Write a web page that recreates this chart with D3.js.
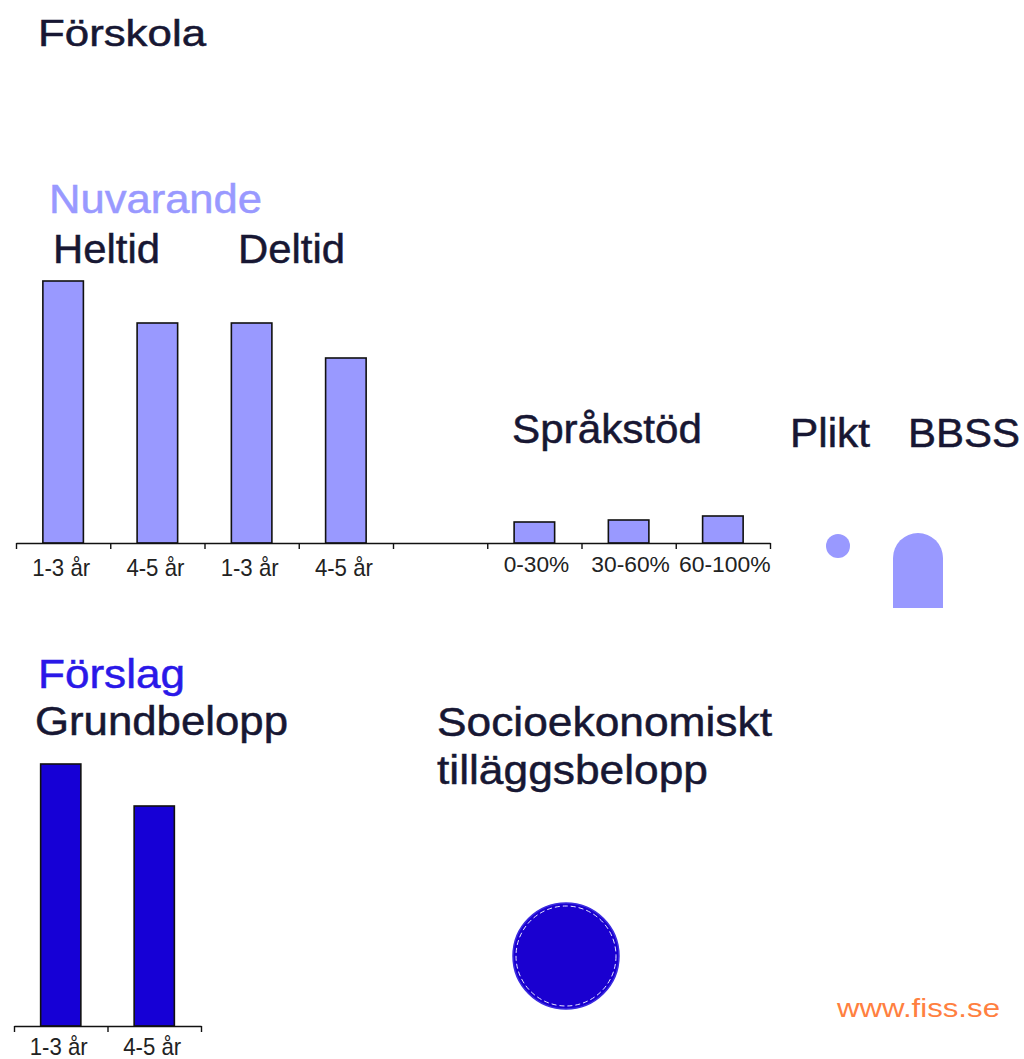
<!DOCTYPE html>
<html><head><meta charset="utf-8">
<script src="https://cdn.jsdelivr.net/npm/d3@7"></script>
<style>
html,body{margin:0;padding:0;background:#fff;}
svg{display:block;}
text{font-family:"Liberation Sans",Arial,sans-serif;}
</style></head>
<body>
<script>
// ---- data ----
const nuvCategories = ["Heltid 1-3","Heltid 4-5","Deltid 1-3","Deltid 4-5","gap","Språkstöd 0-30","Språkstöd 30-60","Språkstöd 60-100"];
const nuvTickLabels = ["1-3 år","4-5 år","1-3 år","4-5 år","","0-30%","30-60%","60-100%"];
const nuvValues = [262, 220, 220, 185, null, 21, 23, 27];

const forCategories = ["Grund 1-3","Grund 4-5"];
const forTickLabels = ["1-3 år","4-5 år"];
const forValues = [262, 220];

const pliktValue = 144;      // area-like value (circle)
const socioValue = 2809;     // area-like value (circle)
const bbssValue = 75;        // height of BBSS shape

// ---- drawing ----
const W = 1024, H = 1059;
const svg = d3.select("body").append("svg").attr("width", W).attr("height", H);

const dark = "#171733";
const light = "#9999ff";
const deep = "#1600d6";

function txt(s, x, y, size, len, color) {
  return svg.append("text").attr("x", x).attr("y", y)
    .attr("font-size", size).attr("fill", color || dark)
    .attr("stroke", color || dark).attr("stroke-width", 0.5)
    .attr("textLength", len).attr("lengthAdjust", "spacingAndGlyphs")
    .text(s);
}

txt("Förskola", 38, 46, 36, 168);
txt("Nuvarande", 49, 213, 40, 213, light);
txt("Heltid", 53, 263, 40, 107);
txt("Deltid", 238, 263, 40, 107);
txt("Språkstöd", 512, 443, 40, 190);
txt("Plikt", 790, 447, 40, 80);
txt("BBSS", 908, 447, 40, 112);
txt("Förslag", 38, 688, 40, 147, "#2a18e8");
txt("Grundbelopp", 35, 735, 40, 253);
txt("Socioekonomiskt", 437, 736, 40, 335);
txt("tilläggsbelopp", 437, 784, 40, 271);
txt("www.fiss.se", 837, 1017, 26, 163, "#ff8040").attr("stroke-width", 0);

// y scale shared (pixels per unit)
const yTop = d3.scaleLinear().domain([0, 300]).range([543, 243]);
const yBot = d3.scaleLinear().domain([0, 300]).range([1026, 726]);

function barChart(cats, labels, vals, x0, x1, y, fill, labelDy) {
  const xb = d3.scaleBand().domain(cats).range([x0, x1]).padding(0);
  const xl = d3.scaleLinear().domain([0, cats.length]).range([x0, x1]);
  const bw = xb.bandwidth() * 0.43;
  const base = y(0);
  svg.append("g").selectAll("rect").data(cats.map((c, i) => ({c, v: vals[i]})).filter(d => d.v != null))
    .join("rect")
    .attr("x", d => xb(d.c) + xb.bandwidth() / 2 - bw / 2)
    .attr("y", d => y(d.v))
    .attr("width", bw)
    .attr("height", d => base - y(d.v))
    .attr("fill", fill).attr("stroke", "#111").attr("stroke-width", 1.6);
  const ax = svg.append("g").attr("transform", `translate(0,${base})`)
    .call(d3.axisBottom(xl).tickValues(d3.range(cats.length + 1)).tickFormat("").tickSize(6).tickSizeOuter(0));
  ax.select(".domain").attr("stroke", "#111").attr("stroke-width", 1.6);
  ax.selectAll(".tick line").attr("stroke", "#111").attr("stroke-width", 1.4);
  const isPct = l => l.indexOf("%") >= 0;
  svg.append("g").selectAll("text").data(cats.map((c, i) => ({c, l: labels[i]})).filter(d => d.l))
    .join("text")
    .attr("x", d => xb(d.c) + xb.bandwidth() / 2 + (isPct(d.l) ? 2 : -2))
    .attr("y", d => base + (isPct(d.l) ? 29 : labelDy))
    .attr("text-anchor", "middle")
    .attr("font-size", d => isPct(d.l) ? 22 : 24)
    .attr("fill", "#222")
    .attr("font-family", d => isPct(d.l) ? '"DejaVu Sans Mono","Liberation Mono",monospace' : '"Liberation Sans",Arial,sans-serif')
    .attr("textLength", d => isPct(d.l) ? d.l.length * 13.1 : 58)
    .attr("lengthAdjust", "spacingAndGlyphs")
    .text(d => d.l);
}

barChart(nuvCategories, nuvTickLabels, nuvValues, 16, 770, yTop, light, 33);
barChart(forCategories, forTickLabels, forValues, 14, 201, yBot, deep, 29);

// circles
const r = d3.scaleSqrt().domain([0, 1]).range([0, 1]);
svg.append("circle").attr("cx", 838).attr("cy", 546).attr("r", r(pliktValue)).attr("fill", light);

// BBSS rounded-top bar
{
  const w = 50, x = 893, bottom = 608, top = bottom - bbssValue, rad = w / 2;
  const p = d3.path();
  p.moveTo(x, bottom);
  p.lineTo(x, top + rad);
  p.arc(x + rad, top + rad, rad, Math.PI, 2 * Math.PI);
  p.lineTo(x + w, bottom);
  p.closePath();
  svg.append("path").attr("d", p.toString()).attr("fill", light);
}

svg.append("circle").attr("cx", 566).attr("cy", 956).attr("r", r(socioValue)).attr("fill", "#1a00d0").attr("stroke", "#3a2ae0").attr("stroke-width", 1.5);
svg.append("circle").attr("cx", 566).attr("cy", 956).attr("r", r(socioValue) - 3).attr("fill", "none")
  .attr("stroke", "#e8e8ff").attr("stroke-width", 1).attr("stroke-dasharray", "5,3");
</script>
</body></html>
